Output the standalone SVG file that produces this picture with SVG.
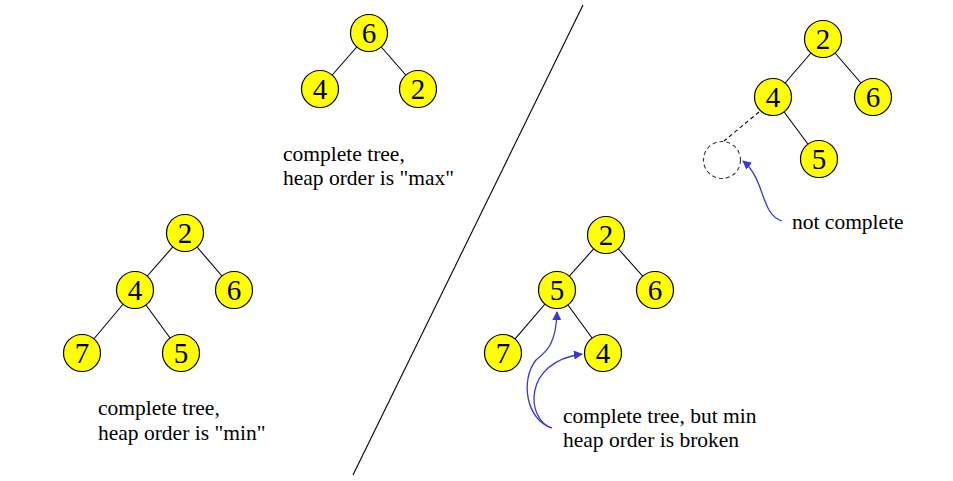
<svg xmlns="http://www.w3.org/2000/svg" width="953" height="481" viewBox="0 0 953 481">
<style>
.n circle{fill:#FFFF00;stroke:#000;stroke-width:1.2}
.n text{font-family:"Liberation Serif","Times New Roman",serif;font-size:29px;text-anchor:middle;fill:#000}
.e line{stroke:#000;stroke-width:1.1}
.lbl{font-family:"Liberation Serif","Times New Roman",serif;font-size:21.5px;fill:#000}
.ptr{fill:none;stroke:#3838D0;stroke-width:1.3}
</style>
<defs>
<marker id="ah" viewBox="0 0 10 10" refX="9" refY="5" markerWidth="9" markerHeight="9" markerUnits="userSpaceOnUse" orient="auto">
<path d="M0,0 L10,5 L0,10 z" fill="#3838D0"/>
</marker>
</defs>
<rect width="953" height="481" fill="#fff"/>
<line x1="583" y1="5" x2="353" y2="475" stroke="#000" stroke-width="1.1"/>
<g id="connectors" class="e">
<line x1="369" y1="33" x2="320" y2="89"/>
<line x1="369" y1="33" x2="418" y2="89"/>
<line x1="185" y1="233" x2="135" y2="290"/>
<line x1="185" y1="233" x2="234" y2="290"/>
<line x1="135" y1="290" x2="82" y2="353"/>
<line x1="135" y1="290" x2="181" y2="353"/>
<line x1="823" y1="39" x2="773" y2="97"/>
<line x1="823" y1="39" x2="873" y2="97"/>
<line x1="773" y1="97" x2="819" y2="159"/>
<line x1="759" y1="112" x2="724" y2="141" stroke-dasharray="4,3"/>
<line x1="606" y1="235" x2="557" y2="290"/>
<line x1="606" y1="235" x2="655" y2="290"/>
<line x1="557" y1="290" x2="503" y2="353"/>
<line x1="557" y1="290" x2="603" y2="353"/>
<path class="ptr" d="M782,221 C760,214 766,180 743,161" marker-end="url(#ah)"/>
<path class="ptr" d="M552,428 C526,420 520,380 536,360 C546,352 556,345 557,312" marker-end="url(#ah)"/>
<path class="ptr" d="M552,428 C526,420 522,362 582,354" marker-end="url(#ah)"/>
</g>
<g id="a6" class="n"><circle cx="369" cy="33" r="18.5"/><text x="369" y="43">6</text></g>
<g id="a4" class="n"><circle cx="320" cy="89" r="18.5"/><text x="320" y="99">4</text></g>
<g id="a2" class="n"><circle cx="418" cy="89" r="18.5"/><text x="418" y="99">2</text></g>
<g id="b2" class="n"><circle cx="185" cy="233" r="18.5"/><text x="185" y="243">2</text></g>
<g id="b4" class="n"><circle cx="135" cy="290" r="18.5"/><text x="135" y="300">4</text></g>
<g id="b6" class="n"><circle cx="234" cy="290" r="18.5"/><text x="234" y="300">6</text></g>
<g id="b7" class="n"><circle cx="82" cy="353" r="18.5"/><text x="82" y="363">7</text></g>
<g id="b5" class="n"><circle cx="181" cy="353" r="18.5"/><text x="181" y="363">5</text></g>
<g id="c2" class="n"><circle cx="823" cy="39" r="18.5"/><text x="823" y="49">2</text></g>
<g id="c4" class="n"><circle cx="773" cy="97" r="18.5"/><text x="773" y="107">4</text></g>
<g id="c6" class="n"><circle cx="873" cy="97" r="18.5"/><text x="873" y="107">6</text></g>
<g id="c5" class="n"><circle cx="819" cy="159" r="18.5"/><text x="819" y="169">5</text></g>
<g id="cmissing"><circle cx="722" cy="160" r="18.5" fill="none" stroke="#333" stroke-width="1.1" stroke-dasharray="4,3"/></g>
<g id="d2" class="n"><circle cx="606" cy="235" r="18.5"/><text x="606" y="245">2</text></g>
<g id="d5" class="n"><circle cx="557" cy="290" r="18.5"/><text x="557" y="300">5</text></g>
<g id="d6" class="n"><circle cx="655" cy="290" r="18.5"/><text x="655" y="300">6</text></g>
<g id="d7" class="n"><circle cx="503" cy="353" r="18.5"/><text x="503" y="363">7</text></g>
<g id="d4" class="n"><circle cx="603" cy="353" r="18.5"/><text x="603" y="363">4</text></g>
<g id="labels">
<text class="lbl" x="283" y="161">complete tree,</text>
<text class="lbl" x="283" y="185">heap order is "max"</text>
<text class="lbl" x="98" y="415">complete tree,</text>
<text class="lbl" x="98" y="440">heap order is "min"</text>
<text class="lbl" x="792" y="229">not complete</text>
<text class="lbl" x="563" y="423">complete tree, but min</text>
<text class="lbl" x="563" y="447">heap order is broken</text>
</g>
</svg>
